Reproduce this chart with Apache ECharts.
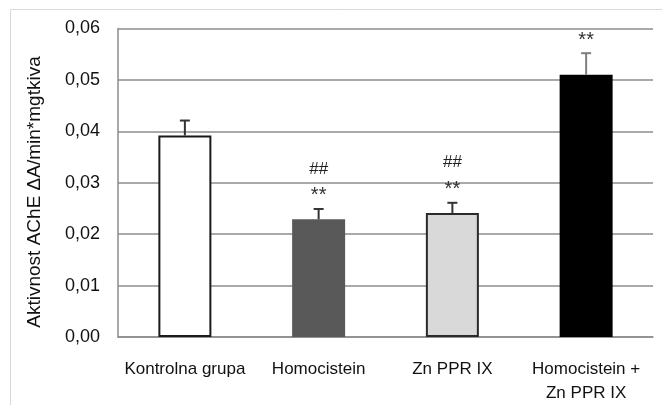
<!DOCTYPE html>
<html><head><meta charset="utf-8">
<script src="https://cdn.jsdelivr.net/npm/echarts@6/dist/echarts.min.js"></script>
<style>html,body{margin:0;padding:0;background:#fff}#c{width:662px;height:405px}</style>
</head><body><div id="c"></div>
<script>
const categories = ["Kontrolna grupa", "Homocistein", "Zn PPR IX", "Homocistein +\nZn PPR IX"];
const values = [0.0392, 0.0229, 0.0241, 0.0510];
const errors = [0.0029, 0.0020, 0.0020, 0.0042];
const sigStar = ["", "**", "**", "**"];
const sigHash = ["", "##", "##", ""];
const yTicks = [0, 0.01, 0.02, 0.03, 0.04, 0.05, 0.06];
const yTitle = "Aktivnost AChE ΔA/min*mgtkiva";

const fills = ["#ffffff", "#595959", "#d9d9d9", "#000000"];
const borders = ["#1a1a1a", "#595959", "#2a2a2a", "#000000"];
const errColors = ["#333333", "#333333", "#333333", "#7f7f7f"];
const FONT = "'Liberation Sans', sans-serif";
const TXT = '#111111';

const chart = echarts.init(document.getElementById('c'));
chart.setOption({
  animation: false,
  backgroundColor: '#fff',
  graphic: [{
    type: 'rect', left: 8, top: 7, silent: true, z: -10,
    shape: {width: 700, height: 450},
    style: {fill: 'none', stroke: '#d9d9d9', lineWidth: 1}
  }, {
    type: 'text', x: 35, y: 192, rotation: Math.PI / 2, silent: true,
    style: {text: yTitle, align: 'center', verticalAlign: 'middle', fill: TXT, font: '19px ' + FONT}
  }],
  grid: {left: 118, right: 9, top: 28.5, bottom: 66},
  xAxis: {
    type: 'category', data: categories,
    axisLine: {show: true, lineStyle: {color: '#8c8c8c', width: 1.5}},
    axisTick: {show: false},
    axisLabel: {color: TXT, fontSize: 17, fontFamily: FONT, margin: 20, lineHeight: 24, interval: 0}
  },
  yAxis: {
    type: 'value', min: 0, max: 0.06, interval: 0.01,
    axisLine: {show: true, lineStyle: {color: '#8c8c8c', width: 1.5}},
    axisTick: {show: false},
    splitLine: {lineStyle: {color: '#8c8c8c', width: 1.5}},
    axisLabel: {
      color: TXT, fontSize: 18, fontFamily: FONT, margin: 18,
      formatter: v => { const t = yTicks.find(x => Math.abs(x - v) < 1e-9); return (t === undefined ? v : t).toFixed(2).replace('.', ','); }
    }
  },
  series: [{
    type: 'bar', barWidth: 53,
    data: values.map((v, i) => ({value: v, itemStyle: {color: fills[i], borderColor: borders[i], borderWidth: i === 3 ? 0 : 2}})),
    z: 2
  }, {
    type: 'custom', z: 3,
    data: values.map((v, i) => [i, v, v + errors[i]]),
    renderItem: function (params, api) {
      const i = api.value(0);
      const base = api.coord([i, api.value(1)]);
      const top = api.coord([i, api.value(2)]);
      const col = errColors[i];
      const children = [
        {type: 'line', shape: {x1: base[0], y1: base[1], x2: top[0], y2: top[1]}, style: {stroke: col, lineWidth: 2}},
        {type: 'line', shape: {x1: top[0] - 5, y1: top[1], x2: top[0] + 5, y2: top[1]}, style: {stroke: col, lineWidth: 2}}
      ];
      if (sigStar[i]) children.push({type: 'text', style: {text: sigStar[i], x: top[0], y: top[1] - 13, align: 'center', verticalAlign: 'middle', fill: '#333', font: '20px ' + FONT}});
      if (sigHash[i]) children.push({type: 'text', style: {text: sigHash[i], x: top[0], y: top[1] - 40, align: 'center', verticalAlign: 'middle', fill: '#222', font: '17px ' + FONT}});
      return {type: 'group', children: children};
    }
  }]
});
</script></body></html>
